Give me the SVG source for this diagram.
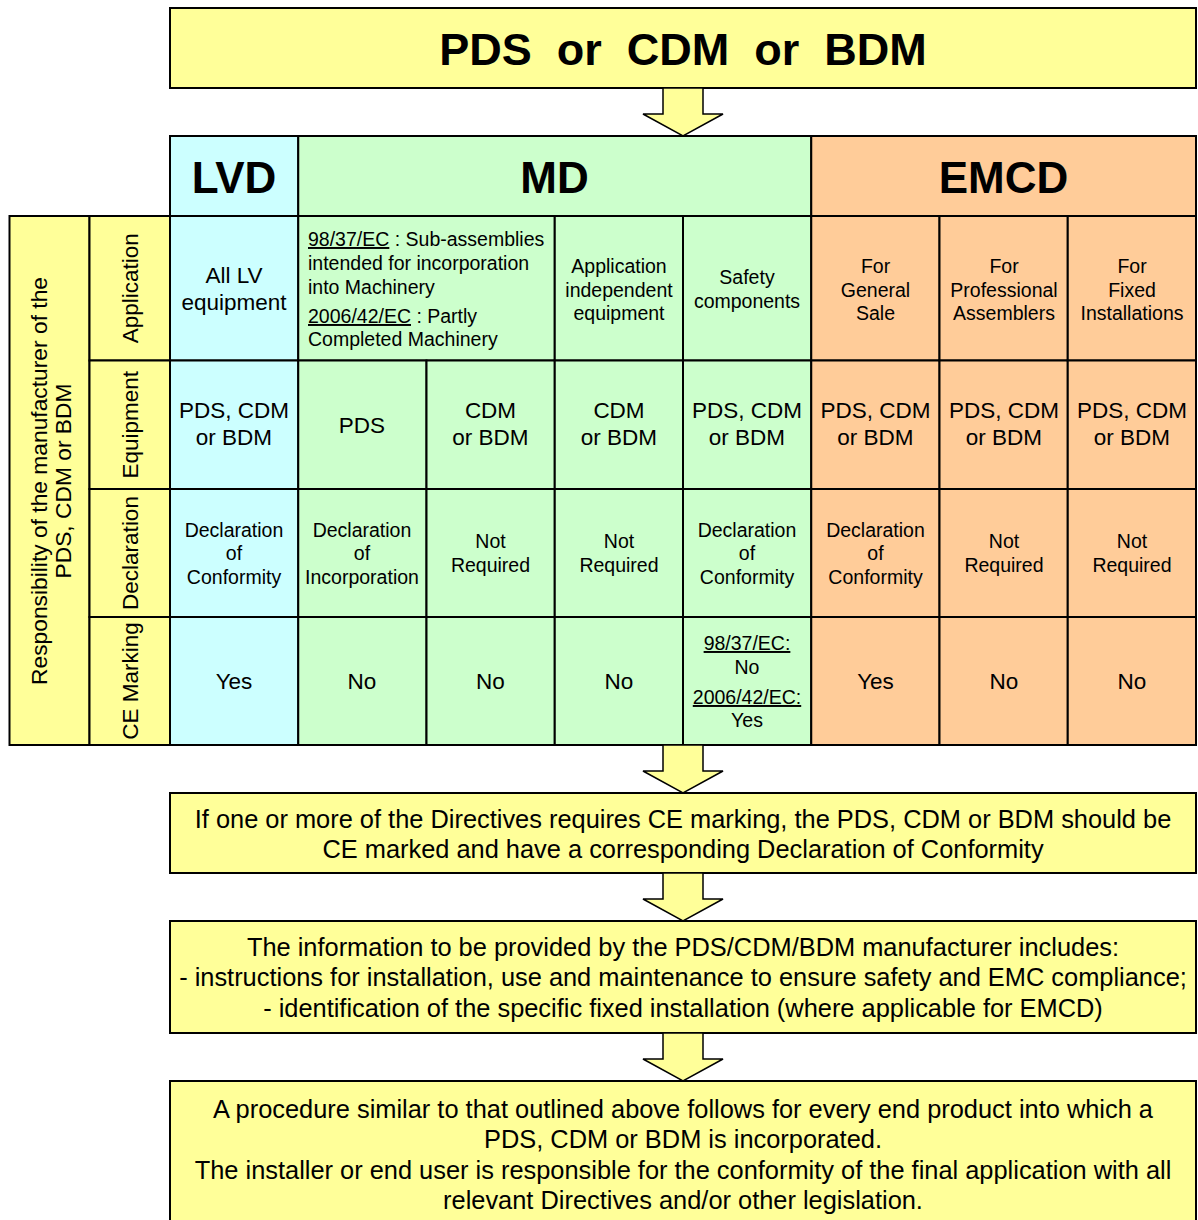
<svg xmlns="http://www.w3.org/2000/svg" width="1198" height="1220" viewBox="0 0 1198 1220">
<style>
text{font-family:"Liberation Sans",Arial,sans-serif;fill:#000;text-anchor:middle}
.box{stroke:#000;stroke-width:2}
.yel{fill:#FFFF99}
.cyan{fill:#CCFFFF}
.grn{fill:#CCFFCC}
.org{fill:#FFCC99}
.hdr{font-size:44px;font-weight:bold}
.ttl{font-size:45px;font-weight:bold}
.t22{font-size:22.5px}
.t19{font-size:19.5px}
.t25{font-size:25.4px}
.left{text-anchor:start}
.u{text-decoration:underline}
.arrow{fill:#FFFF99;stroke:#000;stroke-width:1.5;stroke-linejoin:miter}
</style>
<rect width="1198" height="1220" fill="#fff"/>

<g id="title">
<rect class="box yel" x="170" y="8" width="1026" height="80"/>
<text class="ttl" x="683" y="65">PDS&#160; or&#160; CDM&#160; or&#160; BDM</text>
</g>

<g id="side-label">
<rect class="box yel" x="9.5" y="216" width="80" height="529"/>
<text class="t22" style="font-size:22.8px" transform="translate(46.5,481) rotate(-90)">Responsibility of the manufacturer of the</text>
<text class="t22" style="font-size:22.8px" transform="translate(70.5,481) rotate(-90)">PDS, CDM or BDM</text>
</g>

<g id="row-labels">
<rect class="box yel" x="89.5" y="216" width="80.5" height="144.5"/>
<text class="t22" transform="translate(137.5,288.25) rotate(-90)">Application</text>
<rect class="box yel" x="89.5" y="360.5" width="80.5" height="128.5"/>
<text class="t22" transform="translate(137.5,424.75) rotate(-90)">Equipment</text>
<rect class="box yel" x="89.5" y="489" width="80.5" height="128"/>
<text class="t22" transform="translate(137.5,553) rotate(-90)">Declaration</text>
<rect class="box yel" x="89.5" y="617" width="80.5" height="128"/>
<text class="t22" transform="translate(137.5,681) rotate(-90)">CE Marking</text>
</g>

<g id="headers">
<rect class="box cyan" x="170" y="136" width="128.25" height="80"/>
<text class="hdr" x="234" y="193">LVD</text>
<rect class="box grn" x="298.25" y="136" width="513" height="80"/>
<text class="hdr" x="554.5" y="193">MD</text>
<rect class="box org" x="811.25" y="136" width="384.75" height="80"/>
<text class="hdr" x="1003.5" y="193">EMCD</text>
</g>

<g id="lvd-column">
<rect class="box cyan" x="170" y="216" width="128.25" height="144.5"/>
<text class="t22" x="234"><tspan x="234" y="282.5">All LV</tspan><tspan x="234" y="309.5">equipment</tspan></text>
<rect class="box cyan" x="170" y="360.5" width="128.25" height="128.5"/>
<text class="t22"><tspan x="234" y="418">PDS, CDM</tspan><tspan x="234" y="445">or BDM</tspan></text>
<rect class="box cyan" x="170" y="489" width="128.25" height="128"/>
<text class="t19"><tspan x="234" y="536.5">Declaration</tspan><tspan x="234" y="560">of</tspan><tspan x="234" y="583.5">Conformity</tspan></text>
<rect class="box cyan" x="170" y="617" width="128.25" height="128"/>
<text class="t22" x="234" y="689">Yes</text>
</g>

<g id="md-subassemblies">
<rect class="box grn" x="298.25" y="216" width="256.5" height="144.5"/>
<text class="t19 left"><tspan x="308" y="246"><tspan class="u">98/37/EC</tspan> : Sub-assemblies</tspan><tspan x="308" y="270">intended for incorporation</tspan><tspan x="308" y="294">into Machinery</tspan><tspan x="308" y="323"><tspan class="u">2006/42/EC</tspan> : Partly</tspan><tspan x="308" y="346">Completed Machinery</tspan></text>
<rect class="box grn" x="298.25" y="360.5" width="128.25" height="128.5"/>
<text class="t22" x="362" y="433">PDS</text>
<rect class="box grn" x="426.5" y="360.5" width="128.25" height="128.5"/>
<text class="t22"><tspan x="490.5" y="418">CDM</tspan><tspan x="490.5" y="445">or BDM</tspan></text>
<rect class="box grn" x="298.25" y="489" width="128.25" height="128"/>
<text class="t19"><tspan x="362" y="536.5">Declaration</tspan><tspan x="362" y="560">of</tspan><tspan x="362" y="583.5">Incorporation</tspan></text>
<rect class="box grn" x="426.5" y="489" width="128.25" height="128"/>
<text class="t19"><tspan x="490.5" y="548">Not</tspan><tspan x="490.5" y="572">Required</tspan></text>
<rect class="box grn" x="298.25" y="617" width="128.25" height="128"/>
<text class="t22" x="362" y="689">No</text>
<rect class="box grn" x="426.5" y="617" width="128.25" height="128"/>
<text class="t22" x="490.5" y="689">No</text>
</g>

<g id="md-independent">
<rect class="box grn" x="554.75" y="216" width="128.25" height="144.5"/>
<text class="t19"><tspan x="619" y="273">Application</tspan><tspan x="619" y="296.5">independent</tspan><tspan x="619" y="320">equipment</tspan></text>
<rect class="box grn" x="554.75" y="360.5" width="128.25" height="128.5"/>
<text class="t22"><tspan x="619" y="418">CDM</tspan><tspan x="619" y="445">or BDM</tspan></text>
<rect class="box grn" x="554.75" y="489" width="128.25" height="128"/>
<text class="t19"><tspan x="619" y="548">Not</tspan><tspan x="619" y="572">Required</tspan></text>
<rect class="box grn" x="554.75" y="617" width="128.25" height="128"/>
<text class="t22" x="619" y="689">No</text>
</g>

<g id="md-safety">
<rect class="box grn" x="683" y="216" width="128.25" height="144.5"/>
<text class="t19"><tspan x="747" y="284">Safety</tspan><tspan x="747" y="308">components</tspan></text>
<rect class="box grn" x="683" y="360.5" width="128.25" height="128.5"/>
<text class="t22"><tspan x="747" y="418">PDS, CDM</tspan><tspan x="747" y="445">or BDM</tspan></text>
<rect class="box grn" x="683" y="489" width="128.25" height="128"/>
<text class="t19"><tspan x="747" y="536.5">Declaration</tspan><tspan x="747" y="560">of</tspan><tspan x="747" y="583.5">Conformity</tspan></text>
<rect class="box grn" x="683" y="617" width="128.25" height="128"/>
<text class="t19"><tspan x="747" y="650" class="u">98/37/EC:</tspan><tspan x="747" y="674">No</tspan><tspan x="747" y="704" class="u">2006/42/EC:</tspan><tspan x="747" y="727">Yes</tspan></text>
</g>

<g id="emcd-general">
<rect class="box org" x="811.25" y="216" width="128.25" height="144.5"/>
<text class="t19"><tspan x="875.5" y="273">For</tspan><tspan x="875.5" y="296.5">General</tspan><tspan x="875.5" y="320">Sale</tspan></text>
<rect class="box org" x="811.25" y="360.5" width="128.25" height="128.5"/>
<text class="t22"><tspan x="875.5" y="418">PDS, CDM</tspan><tspan x="875.5" y="445">or BDM</tspan></text>
<rect class="box org" x="811.25" y="489" width="128.25" height="128"/>
<text class="t19"><tspan x="875.5" y="536.5">Declaration</tspan><tspan x="875.5" y="560">of</tspan><tspan x="875.5" y="583.5">Conformity</tspan></text>
<rect class="box org" x="811.25" y="617" width="128.25" height="128"/>
<text class="t22" x="875.5" y="689">Yes</text>
</g>

<g id="emcd-professional">
<rect class="box org" x="939.5" y="216" width="128.25" height="144.5"/>
<text class="t19"><tspan x="1004" y="273">For</tspan><tspan x="1004" y="296.5">Professional</tspan><tspan x="1004" y="320">Assemblers</tspan></text>
<rect class="box org" x="939.5" y="360.5" width="128.25" height="128.5"/>
<text class="t22"><tspan x="1004" y="418">PDS, CDM</tspan><tspan x="1004" y="445">or BDM</tspan></text>
<rect class="box org" x="939.5" y="489" width="128.25" height="128"/>
<text class="t19"><tspan x="1004" y="548">Not</tspan><tspan x="1004" y="572">Required</tspan></text>
<rect class="box org" x="939.5" y="617" width="128.25" height="128"/>
<text class="t22" x="1004" y="689">No</text>
</g>

<g id="emcd-fixed">
<rect class="box org" x="1067.75" y="216" width="128.25" height="144.5"/>
<text class="t19"><tspan x="1132" y="273">For</tspan><tspan x="1132" y="296.5">Fixed</tspan><tspan x="1132" y="320">Installations</tspan></text>
<rect class="box org" x="1067.75" y="360.5" width="128.25" height="128.5"/>
<text class="t22"><tspan x="1132" y="418">PDS, CDM</tspan><tspan x="1132" y="445">or BDM</tspan></text>
<rect class="box org" x="1067.75" y="489" width="128.25" height="128"/>
<text class="t19"><tspan x="1132" y="548">Not</tspan><tspan x="1132" y="572">Required</tspan></text>
<rect class="box org" x="1067.75" y="617" width="128.25" height="128"/>
<text class="t22" x="1132" y="689">No</text>
</g>

<g id="ce-marking-box">
<rect class="box yel" x="170" y="793" width="1026" height="80"/>
<text class="t25"><tspan x="683" y="828">If one or more of the Directives requires CE marking, the PDS, CDM or BDM should be</tspan><tspan x="683" y="858">CE marked and have a corresponding Declaration of Conformity</tspan></text>
</g>

<g id="information-box">
<rect class="box yel" x="170" y="921" width="1026" height="112"/>
<text class="t25"><tspan x="683" y="956">The information to be provided by the PDS/CDM/BDM manufacturer includes:</tspan><tspan x="683" y="986">- instructions for installation, use and maintenance to ensure safety and EMC compliance;</tspan><tspan x="683" y="1017">- identification of the specific fixed installation (where applicable for EMCD)</tspan></text>
</g>

<g id="end-product-box">
<rect class="box yel" x="170" y="1081" width="1026" height="145"/>
<text class="t25"><tspan x="683" y="1118">A procedure similar to that outlined above follows for every end product into which a</tspan><tspan x="683" y="1148">PDS, CDM or BDM is incorporated.</tspan><tspan x="683" y="1179">The installer or end user is responsible for the conformity of the final application with all</tspan><tspan x="683" y="1209">relevant Directives and/or other legislation.</tspan></text>
</g>

<g id="connectors">
<polygon class="arrow" points="663,88 703,88 703,114 723,114 683,136 643,114 663,114"/>
<polygon class="arrow" points="663,745 703,745 703,771 723,771 683,793 643,771 663,771"/>
<polygon class="arrow" points="663,873 703,873 703,899 723,899 683,921 643,899 663,899"/>
<polygon class="arrow" points="663,1033 703,1033 703,1059 723,1059 683,1081 643,1059 663,1059"/>
</g>
</svg>
